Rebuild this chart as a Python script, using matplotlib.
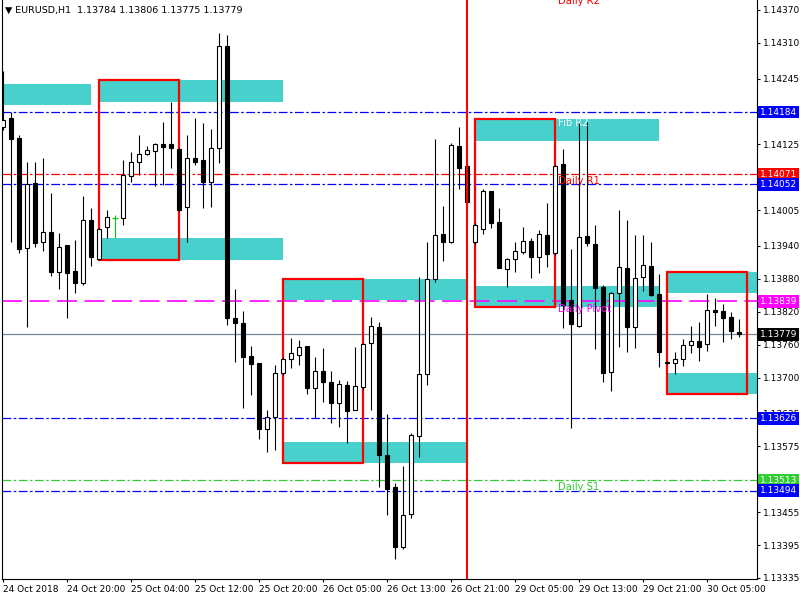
"""
EURUSD H1 chart (MT4 style) with supply/demand zones and daily pivot levels.
"""

import matplotlib

matplotlib.use("Agg")  # no display
import matplotlib.pyplot as plt
import matplotlib.transforms as mtransforms
from matplotlib.patches import Rectangle

plt.rcParams["font.family"] = ["DejaVu Sans"]

# --- data -----------------------------------------------------------------
opens = [
    1.14157, 1.14173, 1.14137, 1.13936, 1.14055, 1.13947, 1.13965, 1.13893,
    1.13942, 1.13894, 1.13873, 1.13987, 1.13916, 1.13975, 1.13991, 1.13991,
    1.14068, 1.14093, 1.14108, 1.14113, 1.14126, 1.14126, 1.14117, 1.14011,
    1.14100, 1.14097, 1.14057, 1.14119, 1.14304, 1.13809, 1.13800, 1.13740,
    1.13727, 1.13607, 1.13628, 1.13709, 1.13734, 1.13741, 1.13758, 1.13681,
    1.13712, 1.13692, 1.13654, 1.13687, 1.13641, 1.13683, 1.13763, 1.13792,
    1.13559, 1.13501, 1.13392, 1.13452, 1.13594, 1.13707, 1.13880, 1.13962,
    1.13947, 1.14122, 1.14086, 1.13947, 1.13971, 1.14040, 1.13984, 1.13898,
    1.13916, 1.13929, 1.13949, 1.13920, 1.13960, 1.13927, 1.14089, 1.13842,
    1.13794, 1.13958, 1.13944, 1.13865, 1.13710, 1.13854, 1.13900, 1.13792,
    1.13883, 1.13903, 1.13853, 1.13729, 1.13727, 1.13734, 1.13760, 1.13767,
    1.13761, 1.13823, 1.13822, 1.13811, 1.13784,
]
highs = [
    1.14259, 1.14184, 1.14142, 1.14093, 1.14093, 1.14100, 1.14037, 1.13964,
    1.13942, 1.13951, 1.14031, 1.14009, 1.13973, 1.14006, 1.13996, 1.14097,
    1.14111, 1.14142, 1.14122, 1.14128, 1.14166, 1.14202, 1.14119, 1.14142,
    1.14173, 1.14164, 1.14153, 1.14328, 1.14324, 1.13862, 1.13822, 1.13758,
    1.13727, 1.13641, 1.13723, 1.13738, 1.13772, 1.13769, 1.13758, 1.13738,
    1.13754, 1.13712, 1.13696, 1.13694, 1.13756, 1.13763, 1.13811, 1.13801,
    1.13634, 1.13508, 1.13539, 1.13599, 1.13883, 1.13947, 1.14135, 1.14013,
    1.14128, 1.14157, 1.14091, 1.13982, 1.14044, 1.14040, 1.14009, 1.13918,
    1.13947, 1.13975, 1.13955, 1.13969, 1.14018, 1.14088, 1.14117, 1.13934,
    1.14166, 1.14166, 1.13978, 1.13869, 1.13856, 1.14006, 1.13987, 1.13960,
    1.13960, 1.13947, 1.13889, 1.13730, 1.13747, 1.13771, 1.13794, 1.13801,
    1.13853, 1.13845, 1.13834, 1.13820, 1.13806,
]
lows = [
    1.14151, 1.13947, 1.13927, 1.13792, 1.13938, 1.13931, 1.13885, 1.13862,
    1.13809, 1.13854, 1.13869, 1.13903, 1.13914, 1.13955, 1.13955, 1.13978,
    1.14057, 1.14069, 1.14106, 1.14049, 1.14051, 1.14082, 1.14004, 1.13947,
    1.14088, 1.14009, 1.14011, 1.14091, 1.13796, 1.13729, 1.13645, 1.13668,
    1.13588, 1.13565, 1.13568, 1.13705, 1.13718, 1.13723, 1.13670, 1.13627,
    1.13656, 1.13617, 1.13610, 1.13581, 1.13641, 1.13678, 1.13641, 1.13501,
    1.13450, 1.13370, 1.13388, 1.13444, 1.13556, 1.13687, 1.13874, 1.13913,
    1.13945, 1.14044, 1.14015, 1.13942, 1.13962, 1.13973, 1.13900, 1.13865,
    1.13893, 1.13925, 1.13882, 1.13891, 1.13902, 1.13924, 1.13791, 1.13608,
    1.13792, 1.13940, 1.13752, 1.13692, 1.13676, 1.13756, 1.13747, 1.13754,
    1.13858, 1.13849, 1.13720, 1.13724, 1.13707, 1.13721, 1.13745, 1.13730,
    1.13749, 1.13794, 1.13765, 1.13771, 1.13775,
]
closes = [
    1.14170, 1.14135, 1.13934, 1.14053, 1.13945, 1.13965, 1.13893, 1.13938,
    1.13891, 1.13873, 1.13987, 1.13920, 1.13971, 1.13993, 1.13991, 1.14069,
    1.14093, 1.14108, 1.14115, 1.14126, 1.14120, 1.14119, 1.14006, 1.14100,
    1.14093, 1.14057, 1.14119, 1.14304, 1.13809, 1.13800, 1.13738, 1.13725,
    1.13607, 1.13628, 1.13709, 1.13734, 1.13745, 1.13756, 1.13681, 1.13712,
    1.13692, 1.13654, 1.13689, 1.13639, 1.13685, 1.13761, 1.13794, 1.13559,
    1.13497, 1.13392, 1.13450, 1.13596, 1.13707, 1.13880, 1.13960, 1.13947,
    1.14124, 1.14082, 1.14020, 1.13978, 1.14040, 1.13982, 1.13900, 1.13916,
    1.13931, 1.13949, 1.13920, 1.13962, 1.13925, 1.14086, 1.13832, 1.13798,
    1.13956, 1.13945, 1.13863, 1.13709, 1.13854, 1.13902, 1.13792, 1.13882,
    1.13905, 1.13851, 1.13747, 1.13726, 1.13734, 1.13760, 1.13767, 1.13756,
    1.13823, 1.13820, 1.13809, 1.13785, 1.13779,
]

time_labels = [
    "24 Oct 2018", "24 Oct 20:00", "25 Oct 04:00", "25 Oct 12:00",
    "25 Oct 20:00", "26 Oct 05:00", "26 Oct 13:00", "26 Oct 21:00",
    "29 Oct 05:00", "29 Oct 13:00", "29 Oct 21:00", "30 Oct 05:00",
]
label_step = 8  # one time label every 8 bars

# ticks hidden behind the price boxes are left out
price_ticks = [
    1.14370, 1.14310, 1.14245, 1.14125, 1.14005, 1.13940, 1.13880, 1.13820,
    1.13760, 1.13700, 1.13635, 1.13575, 1.13455, 1.13395, 1.13335,
]

# horizontal levels: price, colour, style
level_prices = [1.14184, 1.14071, 1.14052, 1.13839, 1.13779, 1.13626, 1.13513, 1.13494]
level_colors = ["#0000ff", "#ff0000", "#0000ff", "#ff00ff", "#778899", "#0000ff", "#32cd32", "#0000ff"]
level_box_colors = ["#0000ff", "#ff0000", "#0000ff", "#ff00ff", "#000000", "#0000ff", "#32cd32", "#0000ff"]
level_styles = ["dashdot", "dashdot", "dashdot", "dashed", "solid", "dashdot", "dashdot", "dashdot"]

# cyan zones: start bar, end bar, low, high
zone_start = [-1, 12, 12, 35, 35, 59, 59, 83, 83]
zone_end = [11, 35, 35, 58, 58, 82, 82, 95, 95]
zone_low = [1.14196, 1.14202, 1.13914, 1.13842, 1.13544, 1.14132, 1.13829, 1.13854, 1.13670]
zone_high = [1.14236, 1.14242, 1.13955, 1.13880, 1.13583, 1.14171, 1.13867, 1.13893, 1.13709]

# red boxes: start bar, end bar, low, high
box_start = [12, 35, 59, 83]
box_end = [22, 45, 69, 93]
box_low = [1.13914, 1.13544, 1.13829, 1.13670]
box_high = [1.14242, 1.13880, 1.14171, 1.13893]

separator_bar = 58

pivot_names = ["Daily R2", "Fib R2", "Daily R1", "Daily Pivot", "Daily S1"]
pivot_prices = [1.14386, 1.14164, 1.14058, 1.13825, 1.13500]
pivot_colors = ["#ff0000", "#ffffff", "#ff0000", "#ff00ff", "#32cd32"]

title = "\u25bc EURUSD,H1  1.13784 1.13806 1.13775 1.13779"


def draw_candles(ax):
    """candle wicks first, then bodies on top"""
    body_w = 0.45
    for i, (o, h, l, c) in enumerate(zip(opens, highs, lows, closes)):
        if o == c:
            ax.vlines(i, l, h, color="#00c000", lw=0.8, zorder=4)
            ax.hlines(c, i - 0.4, i + 0.4, color="#00c000", lw=0.8, zorder=4)
            continue
        ax.vlines(i, l, h, color="black", lw=0.8, zorder=4)
        face = "white" if c > o else "black"
        ax.add_patch(
            Rectangle(
                (i - body_w / 2, min(o, c)), body_w, abs(c - o),
                facecolor=face, edgecolor="black", lw=0.8, zorder=5,
            )
        )


def main():
    fig = plt.figure(figsize=(8, 6), dpi=100)
    ax = fig.add_axes([2 / 800, 21 / 600, 755 / 800, 579 / 600])
    ax.set_xlim(-0.125, 94.25)
    ax.set_ylim(1.133331, 1.143882)

    # zones
    for s, e, lo, hi in zip(zone_start, zone_end, zone_low, zone_high):
        ax.add_patch(Rectangle((s, lo), e - s, hi - lo, facecolor="#48d1cc",
                               edgecolor="none", zorder=1))
    for s, e, lo, hi in zip(box_start, box_end, box_low, box_high):
        ax.add_patch(Rectangle((s, lo), e - s, hi - lo, facecolor="none",
                               edgecolor="#ff0000", lw=1.6, zorder=3))

    # levels
    dash_map = {"dashdot": (0, (7, 2, 2, 2)), "dashed": (0, (12, 4.5)), "solid": "-"}
    for p, col, st in zip(level_prices, level_colors, level_styles):
        lw = 1.2 if st == "dashed" else 0.9
        ax.axhline(p, color=col, lw=lw, ls=dash_map[st], zorder=2)

    ax.axvline(separator_bar, color="#ff0000", lw=1.5, zorder=6)

    draw_candles(ax)

    for name, p, col in zip(pivot_names, pivot_prices, pivot_colors):
        ax.text(69.4, p, name, color=col, fontsize=7.2, va="center", ha="left",
                zorder=7, clip_on=True)

    # axes cosmetics
    ax.spines["top"].set_visible(False)
    for sp in ["left", "right", "bottom"]:
        ax.spines[sp].set_linewidth(0.8)
    ax.yaxis.tick_right()
    ax.set_yticks(price_ticks)
    ax.set_yticklabels([f"{t:.5f}" for t in price_ticks])
    ax.set_xticks(range(0, label_step * len(time_labels), label_step))
    ax.set_xticklabels(time_labels, ha="left")
    ax.tick_params(axis="both", direction="out", length=2.5, width=0.8,
                   labelsize=6.5, pad=1.5)

    trans = mtransforms.blended_transform_factory(ax.transAxes, ax.transData)
    for p, col in zip(level_prices, level_box_colors):
        ax.text(1.004, p, f"{p:.5f}", transform=trans, color="white",
                fontsize=6.5, va="center", ha="left", clip_on=False, zorder=10,
                bbox=dict(boxstyle="square,pad=0.2", facecolor=col, edgecolor="none"))

    fig.text(5 / 800, 1 - 10 / 600, title, fontsize=6.8, va="center", ha="left")

    fig.savefig("out.png", dpi=100)
    plt.close(fig)


if __name__ == "__main__":
    main()
